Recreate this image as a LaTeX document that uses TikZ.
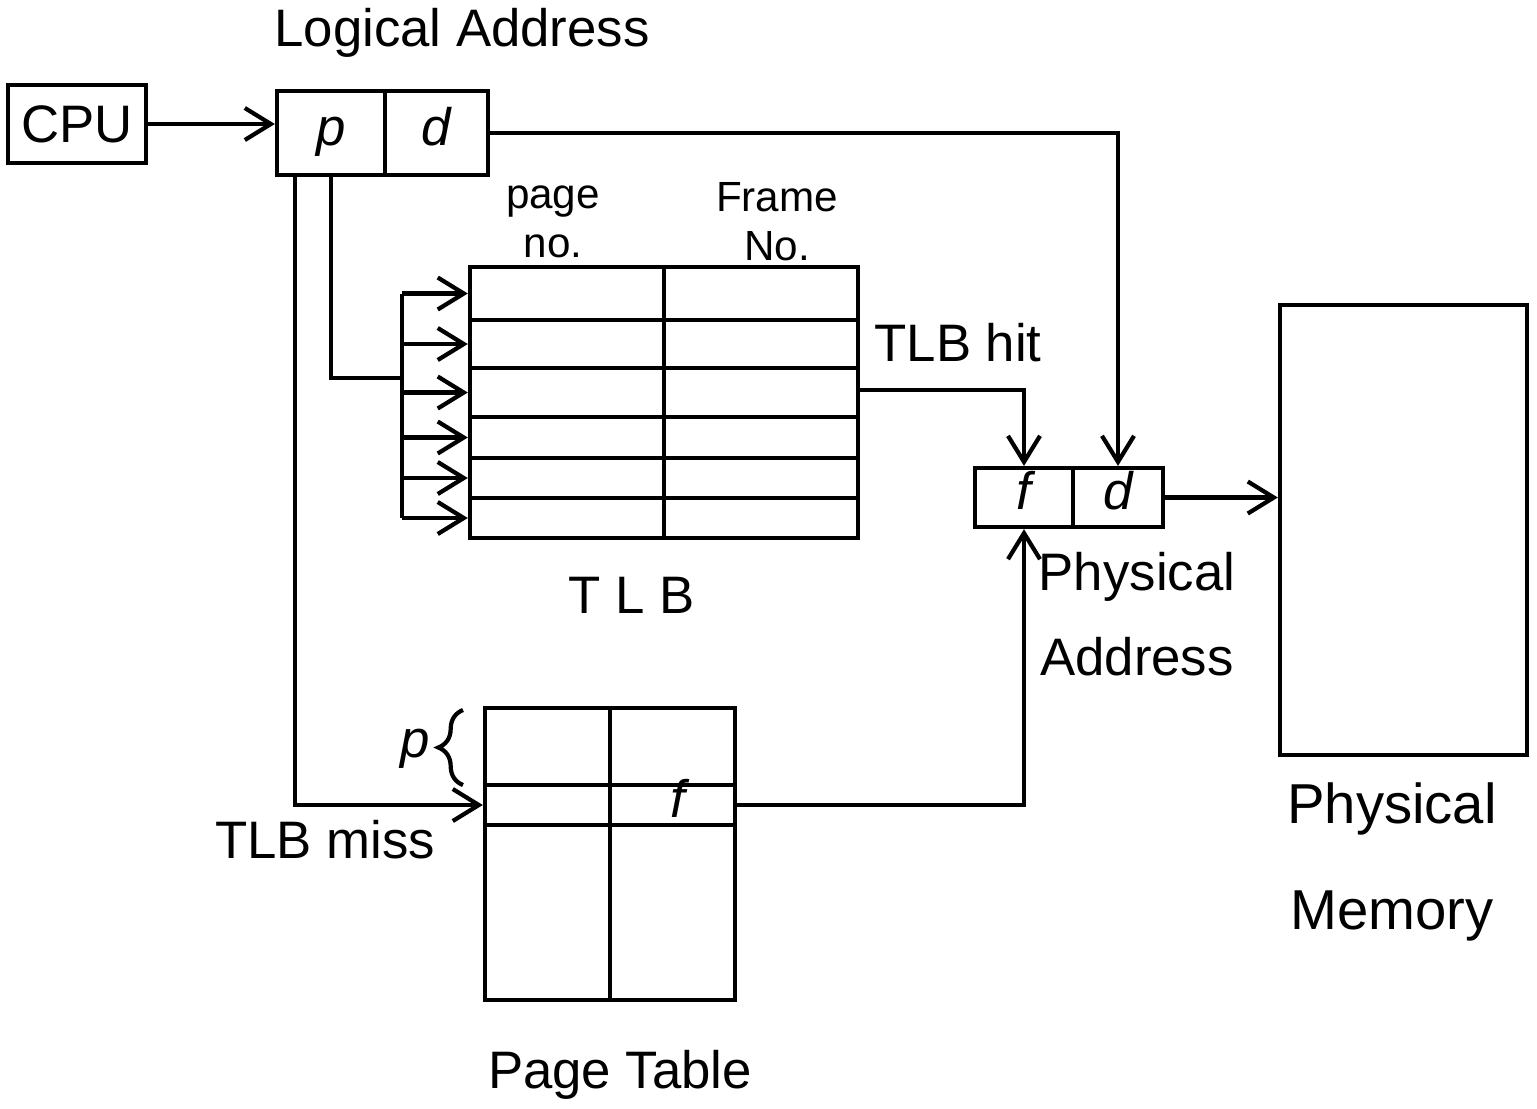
\documentclass[tikz,border=0pt]{standalone}
\usepackage{fontspec}
\setmainfont{Liberation Sans}
\usetikzlibrary{arrows.meta,calc,decorations.pathreplacing}
\begin{document}
\begin{tikzpicture}[x=0.01cm,y=-0.01cm, line width=1.2pt,
  box/.style={draw, inner sep=0pt, font=\fontsize{15}{18}\selectfont},
  cell/.style={inner sep=0pt, text height=0.8em, text depth=0.1em, font=\fontsize{15}{18}\selectfont\itshape},
  arr/.style={-{Straight Barb[length=2.6mm,width=3.2mm,line width=1.2pt]}},
  lbl/.style={align=center, font=\fontsize{15}{18}\selectfont},
  small/.style={align=center, font=\fontsize{12}{14}\selectfont}]
\useasboundingbox (0,0) rectangle (1537,1108);

% CPU and logical address
\node[box, minimum width=1.38cm, minimum height=0.78cm] (cpu) at (77,124) {CPU};
\node[box, cell, minimum width=1.08cm, minimum height=0.84cm] (lp) at (331,133) {p};
\node[box, cell, minimum width=1.03cm, minimum height=0.84cm] (ld) at (436.5,133) {d};
\node[lbl] (lalbl) at (462,33) {Logical Address};
\draw[arr] (cpu.east) -- (cpu.east -| lp.west);

% TLB
\node[draw, inner sep=0pt, minimum width=3.88cm, minimum height=2.71cm] (tlb) at (664,402.5) {};
\draw (tlb.north) -- (tlb.south);
\foreach \y in {320,368,417,458,498} \draw (tlb.west |- 0,\y) -- (tlb.east |- 0,\y);
\node[small] (pgno) at (553,222) {page\\no.};
\node[small] (frno) at (777,222) {Frame\\No.};
\node[lbl] (tlblbl) at (632,595) {T L B};

% bus into TLB
\coordinate (bus) at (402,378);
\draw (402,293.5) -- (402,518);
\foreach \y [count=\i] in {293.5,344,392.5,437.5,478,518} {
  \coordinate (b\i) at (402,\y);
  \coordinate (t\i) at (tlb.west |- 0,\y);
  \draw[arr] (b\i) -- (t\i);
}
\draw (lp.south) |- (bus);

% Physical address
\node[box, cell, minimum width=0.98cm, minimum height=0.59cm] (phf) at (1024,497.5) {f};
\node[box, cell, minimum width=0.90cm, minimum height=0.59cm] (phd) at (1118,497.5) {d};
\node[lbl, font=\fontsize{15}{24}\selectfont] (palbl) at (1137,614) {Physical\\Address};

% d to physical d
\draw[arr] (ld.east) -| (phd.north);

% TLB hit
\coordinate (hit) at (tlb.east |- 0,390);
\draw[arr] (hit) -| (phf.north);
\node[lbl] (hitlbl) at (958,343) {TLB hit};

% Page table
\node[draw, inner sep=0pt, minimum width=2.5cm, minimum height=2.92cm] (pt) at (610,854) {};
\draw (pt.north) -- (pt.south);
\draw (pt.west |- 0,785) -- (pt.east |- 0,785);
\draw (pt.west |- 0,825) -- (pt.east |- 0,825);
\node[cell] (ptf) at (678,805) {f};
\node[lbl] (ptlbl) at (620,1075) {Page Table};
\draw[decorate, decoration={brace, amplitude=7pt}] (463,785) -- (463,710);
\node[cell] (pbr) at (415,745) {p};

% TLB miss
\coordinate (miss) at ($(lp.south west)+(20,0)$);
\coordinate (ptin) at (pt.west |- 0,805);
\draw[arr] (miss) |- (ptin);
\node[lbl] (misslbl) at (325,840) {TLB miss};

% page table f to physical f
\coordinate (ptout) at (pt.east |- 0,805);
\draw[arr] (ptout) -| (phf.south);

% Physical memory
\node[draw, inner sep=0pt, minimum width=2.47cm, minimum height=4.5cm] (mem) at (1403.5,530) {};
\draw[arr] (phd.east) -- (mem.west |- phd.east);
\node[lbl, font=\fontsize{16}{30}\selectfont] (memlbl) at (1392,862) {Physical\\Memory};
\end{tikzpicture}
\end{document}
